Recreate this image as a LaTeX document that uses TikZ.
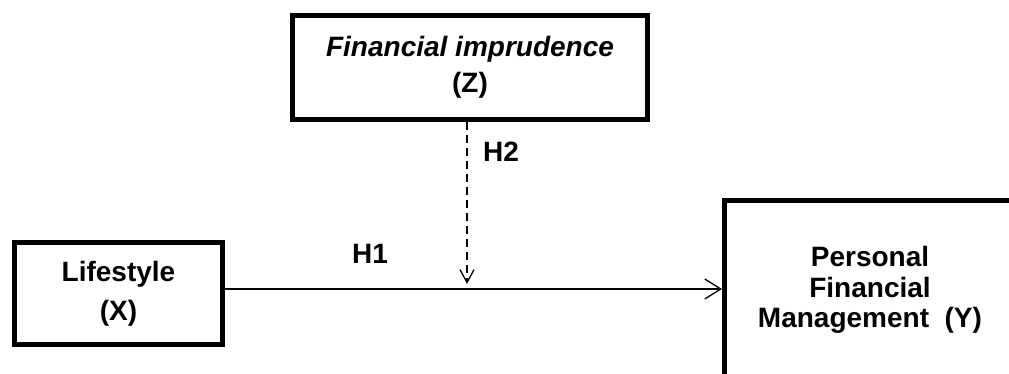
\documentclass[tikz,border=0pt]{standalone}
\usepackage{fontspec}
\setmainfont{Liberation Sans}
\usetikzlibrary{arrows.meta}
\begin{document}
\begin{tikzpicture}[x=1pt,y=-1pt,
  box/.style={draw, line width=5pt, inner sep=0pt, align=center},
  arr/.style={line width=1.3pt, -{Straight Barb[length=16pt,width=20pt]}},
  darr/.style={line width=1.3pt, dash pattern=on 8pt off 5pt, -{Straight Barb[length=13pt,width=14pt]}},
  hlbl/.style={font=\fontsize{28}{30}\selectfont\bfseries, inner sep=0pt, anchor=base west}]
\useasboundingbox (0,0) rectangle (1009,374);
\clip (0,0) rectangle (1009,374);
\node[box, minimum width=355pt, minimum height=104pt, font=\fontsize{28}{36}\selectfont\bfseries] (imp) at (470,67.5) {{\itshape Financial imprudence}\\(Z)};
\node[box, minimum width=208pt, minimum height=102pt, font=\fontsize{28}{39}\selectfont\bfseries] (life) at (118.5,293.5) {Lifestyle\\(X)};
\node[box, minimum width=291pt, minimum height=179pt, font=\fontsize{28}{30.5}\selectfont\bfseries] (pfm) at (870,290) {Personal\\Financial\\Management~~(Y)};
\draw[arr] ([yshift=4.5pt]life.east) -- ([yshift=4.5pt]life.east -| pfm.west);
\coordinate (h2end) at (467,284);
\draw[darr] ([xshift=-3pt]imp.south) -- (h2end);
\node[hlbl] (h1) at (352,263) {H1};
\node[hlbl] (h2) at (483,162) {H2};
\end{tikzpicture}
\end{document}
